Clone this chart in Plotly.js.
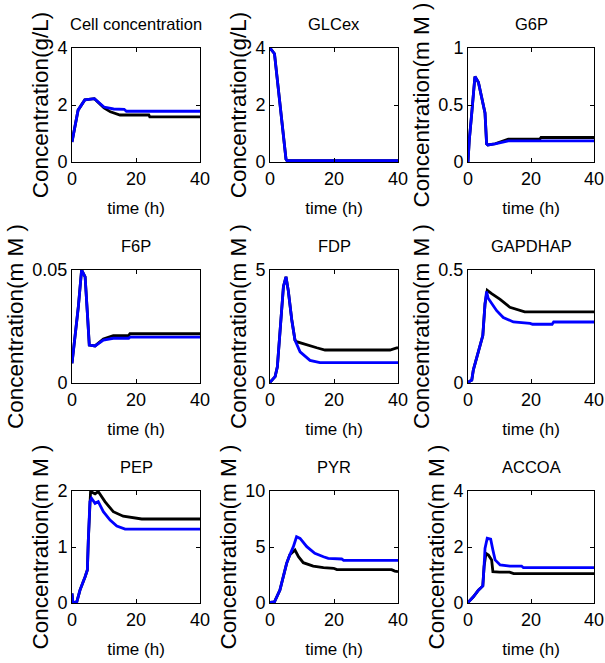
<!DOCTYPE html>
<html>
<head>
<meta charset="utf-8">
<script src="https://cdn.plot.ly/plotly-3.0.1.min.js"></script>
<style>html,body{margin:0;padding:0;background:#fff;}</style>
</head>
<body>
<div id="chart" style="width:605px;height:663px;"></div>
<script>
// ---- Data ----
const panelTitles = ["Cell concentration", "GLCex", "G6P", "F6P", "FDP", "GAPDHAP", "PEP", "PYR", "ACCOA"];
const yTitles = ["Concentration(g/L)", "Concentration(g/L)", "Concentration(m M )",
                 "Concentration(m M )", "Concentration(m M )", "Concentration(m M )",
                 "Concentration(m M )", "Concentration(m M )", "Concentration(m M )"];
const yRanges = [[0, 4], [0, 4], [0, 1], [0, 0.05], [0, 5], [0, 0.5], [0, 2], [0, 10], [0, 4]];
const yTickVals = [[0, 2, 4], [0, 2, 4], [0, 0.5, 1], [0, 0.05], [0, 5], [0, 0.5], [0, 1, 2], [0, 5, 10], [0, 2, 4]];
const xTickVals = [0, 20, 40];

// Cell concentration
const tCellBlack = [0, 1.9, 4, 7, 10, 12, 15, 24, 24.3, 40];
const yCellBlack = [0.70, 1.82, 2.18, 2.22, 1.90, 1.76, 1.65, 1.65, 1.58, 1.58];
const tCellBlue = [0, 1.9, 4, 7, 10, 13, 16.3, 17, 40];
const yCellBlue = [0.70, 1.82, 2.18, 2.22, 1.93, 1.86, 1.85, 1.78, 1.78];
// GLCex
const tGlcBlack = [0, 1.4, 5, 5.3, 40];
const yGlcBlack = [4.0, 3.8, 0.1, 0.05, 0.05];
const tGlcBlue = [0, 1.4, 5, 5.3, 40];
const yGlcBlue = [4.0, 3.8, 0.1, 0.05, 0.05];
// G6P
const tG6pBlack = [0, 0.4, 1.2, 2.2, 3.3, 4.3, 5.4, 5.9, 6.3, 8.6, 11.7, 12.8, 22.8, 23.2, 40];
const yG6pBlack = [0, 0.19, 0.43, 0.75, 0.70, 0.57, 0.43, 0.16, 0.15, 0.16, 0.19, 0.20, 0.20, 0.215, 0.215];
const tG6pBlue = [0, 0.4, 1.2, 2.2, 3.3, 4.3, 5.4, 5.9, 6.3, 8.6, 11.7, 12.8, 40];
const yG6pBlue = [0, 0.19, 0.43, 0.75, 0.70, 0.57, 0.43, 0.16, 0.15, 0.16, 0.18, 0.185, 0.185];
// F6P
const tF6pBlack = [0, 0.6, 2, 3, 4.1, 4.8, 5.4, 7.2, 9.8, 12.9, 17.7, 18.1, 40];
const yF6pBlack = [0.0087, 0.016, 0.034, 0.050, 0.047, 0.031, 0.0168, 0.0164, 0.0195, 0.021, 0.021, 0.0218, 0.0218];
const tF6pBlue = [0, 0.6, 2, 3, 4.1, 4.8, 5.4, 7.2, 9.8, 12.9, 17.7, 18.1, 40];
const yF6pBlue = [0.0087, 0.016, 0.034, 0.050, 0.047, 0.031, 0.0168, 0.0164, 0.019, 0.0198, 0.0198, 0.0203, 0.0203];
// FDP
const tFdpBlack = [0, 1.6, 2.3, 3.1, 4.2, 5.0, 5.7, 6.8, 7.8, 8.3, 11.5, 14.6, 17.2, 37.5, 39.6, 40];
const yFdpBlack = [0.03, 0.28, 0.72, 2.35, 4.27, 4.70, 4.10, 2.80, 1.90, 1.83, 1.68, 1.56, 1.46, 1.46, 1.55, 1.55];
const tFdpBlue = [0, 1.6, 2.3, 3.1, 4.2, 5.0, 5.7, 6.8, 7.8, 9.4, 12.5, 15.6, 40];
const yFdpBlue = [0.03, 0.28, 0.72, 2.35, 4.27, 4.70, 4.10, 2.80, 1.90, 1.38, 1.00, 0.90, 0.90];
// GAPDHAP
const tGapBlack = [0, 1.2, 1.7, 2.8, 3.8, 4.7, 5.4, 6.1, 7.5, 10.2, 13.3, 16.5, 18, 40];
const yGapBlack = [0.003, 0.013, 0.058, 0.116, 0.16, 0.21, 0.35, 0.41, 0.395, 0.37, 0.335, 0.32, 0.315, 0.315];
const tGapBlue = [0, 1.2, 1.7, 2.8, 3.8, 4.7, 5.4, 5.9, 6.4, 7.5, 9.1, 11.2, 14.4, 19.7, 20.5, 26.7, 27.2, 40];
const yGapBlue = [0.003, 0.013, 0.058, 0.116, 0.16, 0.21, 0.35, 0.405, 0.375, 0.35, 0.32, 0.29, 0.27, 0.264, 0.26, 0.26, 0.27, 0.27];
// PEP
const tPepBlack = [0, 0.3, 1.5, 2.5, 4.1, 4.8, 5.1, 5.6, 5.8, 7.2, 8.2, 10.3, 12.9, 16, 19, 21.8, 40];
const yPepBlack = [0.17, 0.0, 0.02, 0.23, 0.47, 0.59, 1.12, 1.81, 1.99, 1.95, 1.99, 1.81, 1.63, 1.55, 1.53, 1.50, 1.50];
const tPepBlue = [0, 0.3, 1.5, 2.5, 4.1, 4.8, 5.1, 5.6, 6.1, 7.2, 8.2, 9.8, 11.9, 14, 16.6, 40];
const yPepBlue = [0.17, 0.0, 0.02, 0.23, 0.47, 0.59, 1.12, 1.81, 1.87, 1.78, 1.81, 1.63, 1.48, 1.375, 1.32, 1.32];
// PYR
const tPyrBlack = [0, 1.4, 3.1, 4.2, 5.2, 6.2, 7.8, 8.9, 10.4, 13.5, 16.7, 19.9, 20.9, 38, 39, 40];
const yPyrBlack = [0.06, 0.10, 1.16, 2.35, 3.54, 4.30, 4.73, 4.13, 3.60, 3.30, 3.15, 3.10, 2.98, 2.98, 2.85, 2.80];
const tPyrBlue = [0, 1.4, 3.1, 4.2, 5.2, 6.2, 7.3, 8.3, 9.4, 11.5, 14, 16.7, 18.2, 22.4, 23, 40];
const yPyrBlue = [0.06, 0.10, 1.16, 2.35, 3.54, 4.30, 5.03, 5.92, 5.77, 5.03, 4.44, 4.13, 3.99, 3.93, 3.80, 3.80];
// ACCOA
const tAccBlack = [0, 1.7, 3.3, 4.7, 5.1, 5.7, 6.5, 7.5, 7.9, 10, 13.2, 14.5, 40];
const yAccBlack = [0.02, 0.22, 0.46, 0.61, 1.30, 1.77, 1.71, 1.54, 1.12, 1.10, 1.10, 1.05, 1.05];
const tAccBlue = [0, 1.7, 3.3, 4.7, 5.1, 5.4, 6.1, 7.2, 7.9, 8.6, 10.2, 13.3, 17, 17.6, 40];
const yAccBlue = [0.02, 0.22, 0.46, 0.61, 1.30, 1.95, 2.31, 2.28, 1.89, 1.54, 1.36, 1.32, 1.32, 1.26, 1.26];

const blackSeries = [[tCellBlack, yCellBlack], [tGlcBlack, yGlcBlack], [tG6pBlack, yG6pBlack],
                     [tF6pBlack, yF6pBlack], [tFdpBlack, yFdpBlack], [tGapBlack, yGapBlack],
                     [tPepBlack, yPepBlack], [tPyrBlack, yPyrBlack], [tAccBlack, yAccBlack]];
const blueSeries = [[tCellBlue, yCellBlue], [tGlcBlue, yGlcBlue], [tG6pBlue, yG6pBlue],
                    [tF6pBlue, yF6pBlue], [tFdpBlue, yFdpBlue], [tGapBlue, yGapBlue],
                    [tPepBlue, yPepBlue], [tPyrBlue, yPyrBlue], [tAccBlue, yAccBlue]];

// ---- Layout ----
const W = 605, H = 663;
const colPx = [[72, 200], [270, 398], [468, 594]];
const rowPx = [[48, 162], [270, 383], [491, 603]];
const FONT = "'Liberation Sans', Arial, sans-serif";

const traces = [];
const layout = {
  width: W, height: H,
  margin: {l: 0, r: 0, t: 0, b: 0},
  paper_bgcolor: "#fff", plot_bgcolor: "#fff",
  showlegend: false,
  font: {family: FONT, size: 18, color: "#000"},
  annotations: []
};

for (let i = 0; i < 9; i++) {
  const r = Math.floor(i / 3), c = i % 3;
  const sfx = i === 0 ? "" : String(i + 1);
  const xa = "x" + sfx, ya = "y" + sfx;
  traces.push({x: blackSeries[i][0], y: blackSeries[i][1], xaxis: xa, yaxis: ya, type: "scatter",
               mode: "lines", line: {color: "#000000", width: 2.8}, hoverinfo: "skip"});
  traces.push({x: blueSeries[i][0], y: blueSeries[i][1], xaxis: xa, yaxis: ya, type: "scatter",
               mode: "lines", line: {color: "#0000ff", width: 2.8}, hoverinfo: "skip"});
  const xd = [colPx[c][0] / W, colPx[c][1] / W];
  const yd = [1 - rowPx[r][1] / H, 1 - rowPx[r][0] / H];
  const common = {showline: true, linecolor: "#000", linewidth: 1, mirror: "ticks", ticks: "inside",
                  ticklen: 4, tickwidth: 1, tickcolor: "#000", showgrid: false, zeroline: false,
                  ticklabeloverflow: "allow",
                  tickfont: {family: FONT, size: 18, color: "#000"}, fixedrange: true};
  layout["xaxis" + sfx] = Object.assign({}, common, {
    domain: xd, anchor: ya, range: [0, 40], tickmode: "array", tickvals: xTickVals,
    title: {text: "time (h)", font: {family: FONT, size: 17, color: "#000", weight: "normal"}, standoff: 14}
  });
  layout["yaxis" + sfx] = Object.assign({}, common, {
    domain: yd, anchor: xa, range: yRanges[i], tickmode: "array", tickvals: yTickVals[i],
    title: {text: yTitles[i], font: {family: FONT, size: 22.5, color: "#000"}, standoff: 2}
  });
  layout.annotations.push({
    text: panelTitles[i], xref: "paper", yref: "paper",
    x: (xd[0] + xd[1]) / 2, y: yd[1], xanchor: "center", yanchor: "bottom", yshift: 13,
    showarrow: false, font: {family: FONT, size: 16.5, color: "#000"}
  });
}

Plotly.newPlot("chart", traces, layout, {staticPlot: true, displayModeBar: false});
</script>
</body>
</html>
